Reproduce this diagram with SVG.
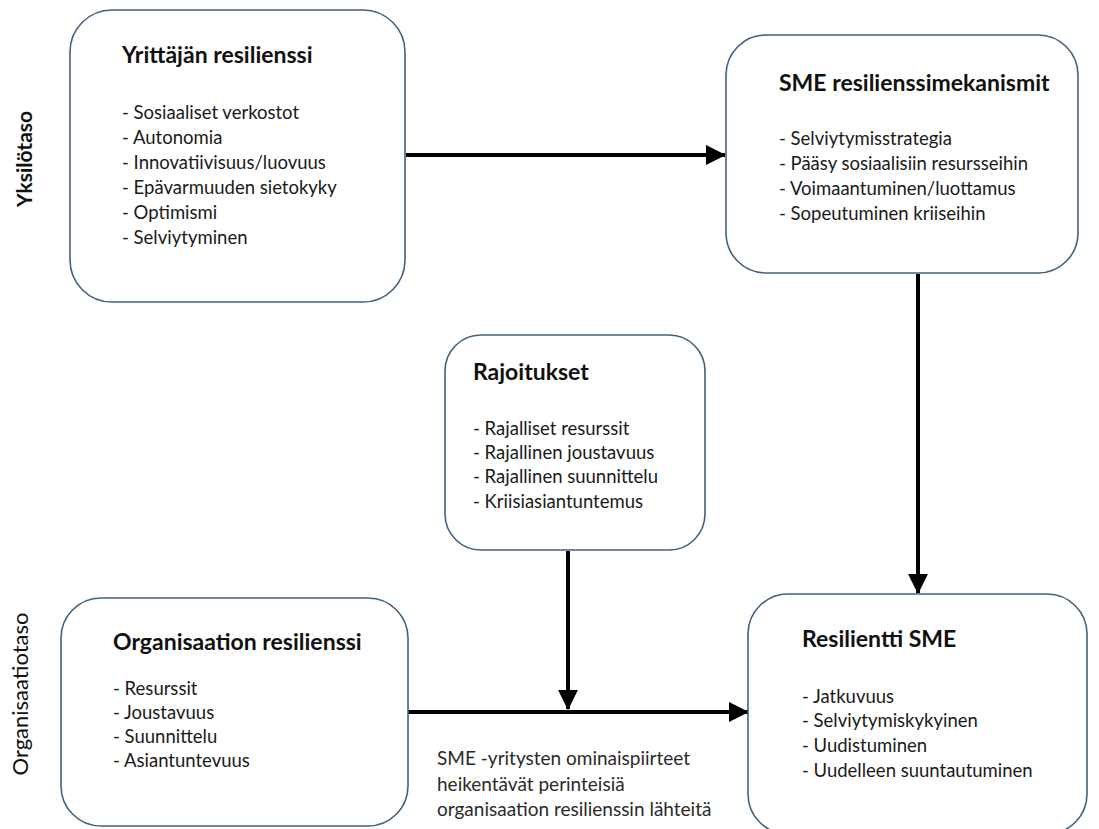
<svg xmlns="http://www.w3.org/2000/svg" width="1099" height="829" viewBox="0 0 1099 829">
  <style>
    .box { fill: #ffffff; stroke: #44617f; stroke-width: 1.6; }
    .title { font-family: Lato, "Liberation Sans", sans-serif; font-weight: bold; font-size: 23px; fill: #111111; }
    .item { font-family: Lato, "Liberation Sans", sans-serif; font-size: 18.5px; fill: #1a1a1a; }
    .level { font-family: Lato, "Liberation Sans", sans-serif; fill: #111111; }
    .note { font-family: Lato, "Liberation Sans", sans-serif; font-size: 19px; fill: #2a2a2a; }
    .conn { stroke: #000000; stroke-width: 4; fill: none; }
  </style>
  <defs>
    <marker id="head" markerWidth="5" markerHeight="5" refX="4.2" refY="2.2" orient="auto" markerUnits="strokeWidth" viewBox="0 0 4.4 4.4">
      <path d="M0,0 L4.4,2.2 L0,4.4 Z" fill="#000000"/>
    </marker>
  </defs>

  <rect width="1099" height="829" fill="#ffffff"/>

  <!-- level labels -->
  <text class="level" font-size="21" font-weight="bold" transform="translate(32,159) rotate(-90)" text-anchor="middle">Yksilötaso</text>
  <text class="level" font-size="22" transform="translate(28,694) rotate(-90)" text-anchor="middle">Organisaatiotaso</text>

  <!-- connectors -->
  <g id="connectors">
    <line class="conn" x1="406" y1="155" x2="725" y2="155" marker-end="url(#head)"/>
    <line class="conn" x1="918" y1="274" x2="918" y2="593" marker-end="url(#head)"/>
    <line class="conn" x1="568" y1="551" x2="568" y2="709" marker-end="url(#head)"/>
    <line class="conn" x1="408" y1="712" x2="748" y2="712" marker-end="url(#head)"/>
  </g>

  <g id="yrittajan-resilienssi">
    <rect class="box" x="70" y="10" width="335" height="292" rx="42"/>
    <text class="title" x="122" y="63">Yrittäjän resilienssi</text>
    <text class="item" x="122" y="119">- Sosiaaliset verkostot</text>
    <text class="item" x="122" y="144">- Autonomia</text>
    <text class="item" x="122" y="169">- Innovatiivisuus/luovuus</text>
    <text class="item" x="122" y="194">- Epävarmuuden sietokyky</text>
    <text class="item" x="122" y="219">- Optimismi</text>
    <text class="item" x="122" y="244">- Selviytyminen</text>
  </g>

  <g id="sme-resilienssimekanismit">
    <rect class="box" x="726" y="35" width="352" height="238" rx="40"/>
    <text class="title" x="779" y="91">SME resilienssimekanismit</text>
    <text class="item" x="779" y="145">- Selviytymisstrategia</text>
    <text class="item" x="779" y="170">- Pääsy sosiaalisiin resursseihin</text>
    <text class="item" x="779" y="195">- Voimaantuminen/luottamus</text>
    <text class="item" x="779" y="220">- Sopeutuminen kriiseihin</text>
  </g>

  <g id="rajoitukset">
    <rect class="box" x="445" y="335" width="260" height="215" rx="36"/>
    <text class="title" x="473" y="380">Rajoitukset</text>
    <text class="item" x="473" y="435">- Rajalliset resurssit</text>
    <text class="item" x="473" y="459">- Rajallinen joustavuus</text>
    <text class="item" x="473" y="483">- Rajallinen suunnittelu</text>
    <text class="item" x="473" y="508">- Kriisiasiantuntemus</text>
  </g>

  <g id="organisaation-resilienssi">
    <rect class="box" x="61" y="598" width="347" height="228" rx="40"/>
    <text class="title" x="113" y="650">Organisaation resilienssi</text>
    <text class="item" x="113" y="695">- Resurssit</text>
    <text class="item" x="113" y="719">- Joustavuus</text>
    <text class="item" x="113" y="743">- Suunnittelu</text>
    <text class="item" x="113" y="767">- Asiantuntevuus</text>
  </g>

  <g id="resilientti-sme">
    <rect class="box" x="748" y="594" width="339" height="240" rx="40"/>
    <text class="title" x="802" y="647">Resilientti SME</text>
    <text class="item" x="802" y="703">- Jatkuvuus</text>
    <text class="item" x="802" y="727">- Selviytymiskykyinen</text>
    <text class="item" x="802" y="752">- Uudistuminen</text>
    <text class="item" x="802" y="777">- Uudelleen suuntautuminen</text>
  </g>

  <g id="huomautus">
    <text class="note" x="437" y="765">SME -yritysten ominaispiirteet</text>
    <text class="note" x="437" y="791">heikentävät perinteisiä</text>
    <text class="note" x="437" y="816">organisaation resilienssin lähteitä</text>
  </g>
</svg>
